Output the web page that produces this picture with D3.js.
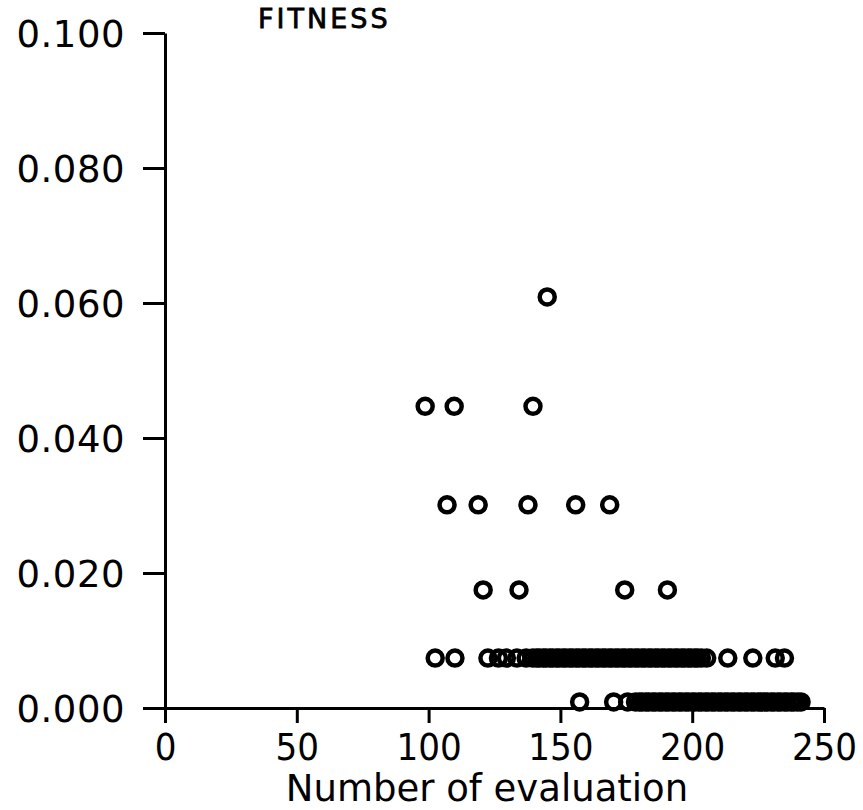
<!DOCTYPE html>
<html>
<head>
<meta charset="utf-8">
<script src="https://cdn.jsdelivr.net/npm/d3@7/dist/d3.min.js"></script>
<style>
  html, body { margin: 0; padding: 0; background: #fff; }
  svg { display: block; }
</style>
</head>
<body>
<div id="chart"></div>
<script>
// fitness levels (y) and the evaluation numbers (x) found at each level
const fitnessLevels = [0.0609, 0.0447, 0.0301, 0.0175, 0.0074, 0.0009];
const evalsAt0609 = [145];
const evalsAt0447 = [98.7, 109.7, 139.6];
const evalsAt0301 = [107, 118.8, 137.7, 155.8, 168.7];
const evalsAt0175 = [120.7, 134.3, 174.4, 190.6];
const evalsAt0074 = [102.5, 110, 122.5, 126.5, 129.5, 133.5, 137, 139.5, 141, 142, 143.5,
  144.5, 146, 147, 148.5, 149.5, 151, 152, 153.5, 154.5, 156, 157, 158.5, 159.5, 161, 162,
  163.5, 164.5, 166, 167, 168.5, 169.5, 171, 172, 173.5, 174.5, 176, 177, 178.5, 179.5,
  181, 182, 183.5, 184.5, 186, 187, 188.5, 189.5, 191, 192, 193.5, 194.5, 196, 197, 198.5,
  199.5, 201, 202, 203.5, 205.5, 213.5, 223, 231.5, 235];
const evalsAt0009 = [157.3, 170.2, 175.5, 178.5, 180, 181, 182.5, 183.5, 185, 186, 187.5,
  188.5, 190, 191, 192.5, 193.5, 195, 196, 197.5, 198.5, 200, 201, 202.5, 203.5, 205, 206,
  207.5, 208.5, 210, 211, 212.5, 213.5, 215, 216, 217.5, 218.5, 220, 221, 222.5, 223.5,
  225, 226, 227.5, 228.5, 230, 231, 232.5, 233.5, 235, 236, 237.5, 238.5, 240, 241.3];
const evalRows = [evalsAt0609, evalsAt0447, evalsAt0301, evalsAt0175, evalsAt0074, evalsAt0009];

const xTicks = [0, 50, 100, 150, 200, 250];
const yTicks = [0, 0.02, 0.04, 0.06, 0.08, 0.1];

const WIDTH = 863;
const HEIGHT = 810;
const PLOT = { left: 165, right: 824, top: 33, bottom: 708 };

const points = evalRows.flatMap((row, i) => row.map((x) => ({ x, y: fitnessLevels[i] })));

const svg = d3.select('#chart').append('svg')
  .attr('width', WIDTH)
  .attr('height', HEIGHT)
  .attr('viewBox', `0 0 ${WIDTH} ${HEIGHT}`);

svg.append('rect').attr('width', WIDTH).attr('height', HEIGHT).attr('fill', '#fff');

const xScale = d3.scaleLinear().domain([0, 250]).range([PLOT.left, PLOT.right]);
const yScale = d3.scaleLinear().domain([0, 0.1]).range([PLOT.bottom, PLOT.top]);

// x axis
const xAxisG = svg.append('g')
  .attr('transform', `translate(0,${PLOT.bottom})`)
  .call(d3.axisBottom(xScale).tickValues(xTicks).tickFormat(d3.format('d'))
    .tickSize(15).tickSizeOuter(0));
xAxisG.selectAll('text')
  .attr('y', 52).attr('dy', 0)
  .style('font-family', '"DejaVu Sans Condensed", "DejaVu Sans", sans-serif')
  .style('font-stretch', 'condensed')
  .style('font-size', '38px')
  .attr('fill', '#000');

// y axis
const yAxisG = svg.append('g')
  .attr('transform', `translate(${PLOT.left},0)`)
  .call(d3.axisLeft(yScale).tickValues(yTicks).tickFormat(d3.format('.3f'))
    .tickSize(22).tickPadding(18).tickSizeOuter(0));
yAxisG.selectAll('text')
  .attr('dy', '0.36em')
  .style('font-family', '"DejaVu Sans", sans-serif')
  .style('font-size', '37px')
  .style('letter-spacing', '0.5px')
  .attr('fill', '#000');

[xAxisG, yAxisG].forEach((axis) => {
  axis.selectAll('path,line').attr('stroke', '#000').attr('stroke-width', 3);
});

// markers
svg.append('g').selectAll('circle')
  .data(points)
  .join('circle')
  .attr('cx', (d) => xScale(d.x))
  .attr('cy', (d) => yScale(d.y))
  .attr('r', 7.5)
  .attr('fill', 'none')
  .attr('stroke', '#000')
  .attr('stroke-width', 4.5);

// labels
svg.append('text')
  .attr('x', 258)
  .attr('y', 28)
  .style('font-family', '"DejaVu Sans", sans-serif')
  .style('font-size', '27px')
  .style('letter-spacing', '3px')
  .attr('fill', '#000')
  .attr('stroke', '#000')
  .attr('stroke-width', 0.8)
  .text('FITNESS');

svg.append('text')
  .attr('x', 487)
  .attr('y', 801)
  .attr('text-anchor', 'middle')
  .style('font-family', '"DejaVu Sans", sans-serif')
  .style('font-size', '37px')
  .attr('fill', '#000')
  .text('Number of evaluation');
</script>
</body>
</html>
